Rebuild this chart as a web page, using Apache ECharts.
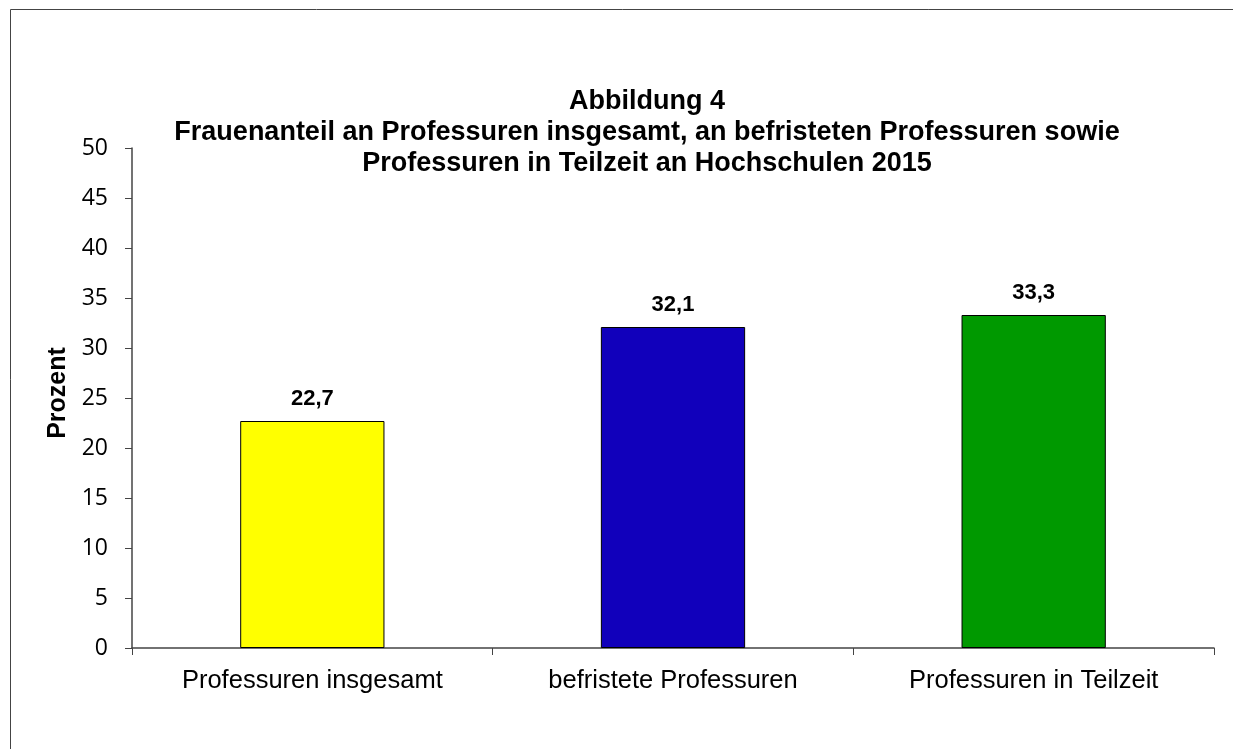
<!DOCTYPE html>
<html>
<head>
<meta charset="utf-8">
<script src="https://cdn.jsdelivr.net/npm/echarts@6/dist/echarts.min.js"></script>
<style>
html, body { margin: 0; padding: 0; background: #fff; }
#chart { width: 1233px; height: 749px; }
</style>
</head>
<body>
<div id="chart"></div>
<script>
// Daten
var categories = ['Professuren insgesamt', 'befristete Professuren', 'Professuren in Teilzeit'];
var values = [22.7, 32.1, 33.3];
var barColors = ['#FFFF00', '#1100BB', '#009900'];
var titleLines = [
    'Abbildung 4',
    'Frauenanteil an Professuren insgesamt, an befristeten Professuren sowie',
    'Professuren in Teilzeit an Hochschulen 2015'
];

var chart = echarts.init(document.getElementById('chart'));

var option = {
    animation: false,
    textStyle: { fontFamily: 'Liberation Sans, Arial, sans-serif' },
    graphic: [{
        type: 'rect',
        shape: { x: 10.5, y: 9.5, width: 1300, height: 800 },
        style: { fill: 'none', stroke: '#444', lineWidth: 1 },
        silent: true
    }],
    title: {
        text: titleLines.join('\n'),
        left: 642,
        textAlign: 'center',
        top: 81,
        textStyle: {
            fontSize: 27,
            fontWeight: 'bold',
            color: '#000',
            lineHeight: 31,
            fontFamily: 'Liberation Sans, Arial, sans-serif'
        }
    },
    grid: { left: 132, right: 19, top: 148, bottom: 101, containLabel: false },
    xAxis: {
        type: 'category',
        data: categories,
        axisLine: { lineStyle: { color: '#444', width: 1.5 } },
        axisTick: { show: true, length: 7, alignWithLabel: false, lineStyle: { color: '#444' } },
        axisLabel: { color: '#000', fontSize: 25.5, margin: 20 }
    },
    yAxis: {
        type: 'value',
        min: 0,
        max: 50,
        interval: 5,
        name: 'Prozent',
        nameLocation: 'middle',
        nameGap: 57,
        nameTextStyle: { fontSize: 25, fontWeight: 'bold', color: '#000', padding: [0, 0, 0, 10] },
        axisLine: { show: true, lineStyle: { color: '#444', width: 1.5 } },
        axisTick: { show: true, length: 7, lineStyle: { color: '#444' } },
        axisLabel: { color: '#000', fontSize: 23, margin: 24, fontFamily: 'Open Sans, Noto Sans, sans-serif' },
        splitLine: { show: false }
    },
    series: [{
        type: 'bar',
        barWidth: '40%',
        data: values.map(function (v, i) {
            return { value: v, itemStyle: { color: barColors[i] } };
        }),
        itemStyle: { borderColor: '#000', borderWidth: 1 },
        label: {
            show: true,
            position: 'top',
            distance: 11,
            fontSize: 22,
            fontWeight: 'bold',
            color: '#000',
            formatter: function (p) { return String(p.value).replace('.', ','); }
        }
    }]
};

chart.setOption(option);
</script>
</body>
</html>
